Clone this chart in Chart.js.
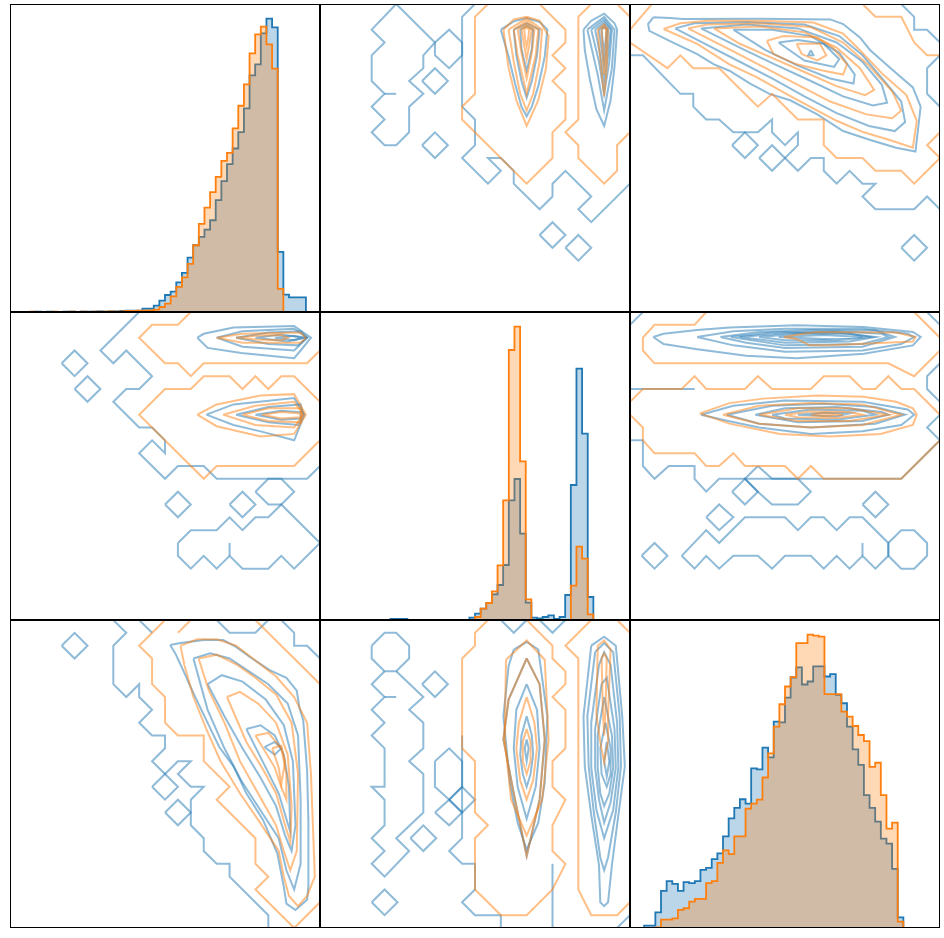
<!DOCTYPE html>
<html>
<head>
<meta charset="utf-8">
<script src="https://cdn.jsdelivr.net/npm/chart.js@4.4.1/dist/chart.umd.min.js"></script>
<style>
  html, body { margin: 0; padding: 0; background: #fff; }
  #grid { position: relative; width: 944px; height: 938px; }
  #grid canvas { position: absolute; }
</style>
</head>
<body>
<div id="grid"></div>
<script>
// ---- histograms: 50 bins each, bin edges 0..50 ----
var hist11Blue = [1,0,0,1,0,1,0,0,1,1,0,1,1,1,2,1,2,2,3,4,4,4,10,10,19,34,51,61,89,117,163,200,225,247,275,335,392,443,490,539,610,709,742,835,879,853,180,52,44,44];
var hist11Orange = [0,0,1,0,0,0,1,0,0,1,0,1,0,1,1,1,2,1,2,3,3,4,4,5,7,15,25,47,75,104,144,200,264,313,359,405,453,477,550,618,682,775,832,855,802,729,69,0,0,0];

var hist22Blue = [0,0,0,0,0,0,0,0,0,0,0,3,3,3,0,0,0,0,0,0,0,0,0,0,0,7,19,34,51,77,105,165,359,423,259,52,7,5,9,14,3,9,75,405,754,559,69,0,0,0];
var hist22Orange = [0,0,0,0,0,0,0,0,0,0,0,0,0,0,0,0,0,0,0,0,0,0,0,0,0,0,9,34,51,86,164,359,810,880,476,62,0,0,0,0,0,0,0,103,220,184,17,0,0,0];

var hist33Blue = [2,7,7,47,111,140,132,111,137,134,140,174,180,206,223,274,328,359,385,372,477,474,539,510,617,615,689,749,779,728,737,782,782,752,759,697,672,602,534,488,397,359,318,267,252,177,32,0,0,0];
var hist33Orange = [0,0,0,2,25,25,29,54,59,79,87,87,134,140,195,232,221,274,274,357,372,384,450,522,602,669,722,750,852,852,877,874,871,699,699,699,647,632,604,577,559,482,494,397,297,315,19,0,0,0];

// ---- contour lines, grid units (x 0..24 left to right, y 0..24 top to bottom) ----
var c12Blue = [
  [[5.9,0],[4,2],[5,3],[4,4],[4,6],[5,7],[4,8],[5,9],[4,10],[5,11],[5.9,11],[6.9,10],[6.9,8],[8,7],[6.9,6],[8,5],[8,4],[8.9,3],[5.9,0]],
  [[5,7],[5.9,7]],
  [[8.9,3],[10,2],[11,3],[11,4],[10,5],[8.9,4],[8.9,3]],
  [[7.9,6],[8.9,5],[9.9,6],[8.9,7],[7.9,6]],
  [[7.9,11],[8.9,10],[9.9,11],[8.9,12],[7.9,11]],
  [[17,18],[18,17],[19,18],[18,19],[17,18]],
  [[19,19],[20,18],[21,19],[20,20],[19,19]],
  [[12,0],[11,1],[11,8],[12,9],[12,11],[11,12],[13,14],[14,13],[13,12],[14,12],[15,13],[15,14],[17,16],[18,15],[18,14],[19,13],[21,15],[20,16],[21,17],[24,14]],
  [[14,2],[15,1.35],[16,1.1],[17,1.4],[17.6,2],[17.4,4.1],[16.9,6.4],[16.4,8],[16,8.75],[15.6,8],[15.1,6.2],[14.6,4.1],[14,2]],
  [[15,2],[16,1.5],[17,2],[16.8,4],[16.4,6],[16,7.3],[15.6,6],[15.2,4],[15,2]],
  [[15.5,2],[16,1.7],[16.5,2],[16.4,3.5],[16,5.2],[15.6,3.5],[15.5,2]],
  [[20.4,2],[21,1.3],[22,0.75],[22.8,1.5],[23,2],[22.8,4.9],[22.5,7.5],[22,9.5],[21.4,8.2],[20.9,5.9],[20.5,3.6],[20.4,2]],
  [[20.7,2],[22,1],[22.8,2],[22.6,5],[22,8.3],[21.5,5.5],[20.7,2]],
  [[21,2],[22,1.2],[22.6,2],[22.4,4.5],[22,7],[21.6,4.5],[21,2]],
  [[21.3,2],[22,1.4],[22.5,2],[22.3,4],[22,6],[21.7,4],[21.3,2]],
  [[21.6,2],[22,1.6],[22.3,2],[22.2,3.5],[22,4.8],[21.8,3.5],[21.6,2]],
  [[21.8,2],[22,1.8],[22.2,2],[22.1,3],[22,3.8],[21.9,3],[21.8,2]]
];
var c12Orange = [
  [[13,0],[12,1],[12,7],[11,8],[11,9],[16,14],[18,12],[18,10],[19,9],[19,7],[18,6],[19,5],[18,4],[19,3],[19,2],[17,0]],
  [[21,0],[20,1],[20,9],[19,10],[20,11],[20,12],[22,14],[23,13],[23,11],[24,10]],
  [[23,0],[24,1]],
  [[14.2,2],[15,1.2],[16,1],[17,1.3],[17.7,2.5],[17.5,5],[16.9,7.5],[16,9.5],[15.2,7.5],[14.6,5],[14.2,2]],
  [[14.6,2],[16,1.1],[17.2,2],[17,4.5],[16.5,7],[16,8.3],[15.5,7],[15,4.5],[14.6,2]],
  [[15,2],[16,1.3],[16.9,2],[16.7,4],[16,7],[15.3,4],[15,2]],
  [[15.3,2],[16,1.5],[16.6,2],[16.4,3.8],[16,5.8],[15.6,3.8],[15.3,2]],
  [[15.6,2],[16,1.7],[16.4,2],[16.2,3.2],[16,4.3],[15.8,3.2],[15.6,2]],
  [[15.8,2],[16,1.85],[16.2,2],[16.1,2.8],[16,3.3],[15.9,2.8],[15.8,2]],
  [[21.5,2],[22,1.6],[22.3,2],[22.2,4.9],[22,7.2],[21.75,4.9],[21.5,2]],
  [[21.8,2],[22,1.8],[22.15,2],[22.1,4],[22,5.5],[21.9,4],[21.8,2]]
];

var c13Blue = [
  [[0,4],[1,4],[3.9,7],[4.9,7],[4.9,8],[5.9,9],[6.9,9],[8,10],[9.9,10],[11,9],[11,10],[12,11],[13,10],[13,11],[12,12],[13,13],[14,12],[15,12],[15,13],[16,14],[17,13],[18,14],[19,14],[18,15],[19,16],[22,16],[23,15],[24,16]],
  [[21,0],[22,1],[22,2],[23,2],[24,3]],
  [[24,4],[23,5],[23,7],[24,8]],
  [[0,10],[0,14]],
  [[7.9,11],[8.9,10],[9.9,11],[8.9,12],[7.9,11]],
  [[10,12],[11,11],[12,12],[11,13],[10,12]],
  [[21,19],[22,18],[23,19],[22,20],[21,19]],
  [[1.8,1.04],[3.1,1.1],[4.1,1.17],[10,1.15],[15.5,1.2],[16.5,1.56],[17.8,2.6],[18.6,3.6],[20.4,5.2],[21.9,6.5],[22.5,8],[22.1,11.5],[20.6,11.2],[18.6,10.6],[16.5,9.9],[14.5,8.6],[12.4,7.5],[10.8,7],[9.3,6.2],[7.7,5.2],[6.5,4.7],[5.2,3.9],[3.1,2.9],[1.5,2.1],[1.4,1.56],[1.8,1.04]],
  [[3.5,1.9],[5,1.5],[9,1.4],[13.5,1.6],[16.2,2.5],[18,4],[19.6,5.9],[21,7.6],[21.3,9.2],[20.5,9.9],[18.5,9.5],[16,8.5],[13.5,7.2],[11,5.8],[8.5,4.5],[6,3.2],[3.5,1.9]],
  [[5.5,1.9],[9,1.6],[13,1.9],[16,3],[18,4.5],[19.5,6.3],[19.9,7.7],[18.8,7.9],[16.5,7.2],[14,6],[11,4.6],[8.5,3.4],[5.5,1.9]],
  [[8,2],[11,2],[14,2.5],[16.2,3.8],[17.4,5.5],[17.3,6.2],[15.5,5.8],[13,4.8],[10.5,3.6],[8,2]],
  [[11.5,3],[13,2.8],[15,3.1],[16.2,4.3],[15.8,4.9],[13.5,4.4],[11.5,3]],
  [[14,3.6],[14.2,4],[13.8,4],[14,3.6]]
];
var c13Orange = [
  [[0,2],[1.7,0]],
  [[0,3],[2.9,5],[3.9,4],[4.9,5],[6.9,5],[9.9,8],[11,7],[13,9],[15,9],[15,11],[16,12],[18,12],[19,13],[21,13],[22,14],[24,12]],
  [[18,0],[19,1],[21,1],[22,3],[23,4],[24,4]],
  [[24,10],[23,11],[24,12]],
  [[2.6,1.95],[3.9,1.5],[6,1.3],[10,1.3],[14.2,1.45],[16.5,2.3],[17.8,3.6],[19.6,5.5],[21.4,7.1],[22.2,9.1],[21.9,11.2],[20.1,10.6],[18.1,10],[16,9.1],[14.5,8.3],[12.1,7],[9.8,5.7],[7.7,4.7],[5.2,3.1],[2.6,1.95]],
  [[4.5,1.9],[6,1.6],[10,1.5],[14,1.8],[16.5,3],[18.5,4.8],[20.3,6.8],[21,8.3],[20.3,8.9],[18.3,8.6],[15.5,7.6],[13,6.3],[10.5,5],[8,3.7],[4.5,1.9]],
  [[6.5,1.9],[10,1.75],[13.5,2.2],[16,3.4],[17.8,5],[18.9,6.7],[18.2,7.1],[16,6.4],[13.5,5.3],[11,4.2],[8.5,3.1],[6.5,1.9]],
  [[10.6,2.86],[11.9,2.5],[14.5,2.6],[15.7,3.4],[16.8,4.7],[16.5,5.5],[15,5.2],[12.9,4.7],[11.1,3.9],[10.6,2.86]],
  [[12.9,3.1],[14.7,3.1],[15.2,4],[14.5,4.4],[13.3,3.9],[12.9,3.1]]
];

var c21Blue = [
  [[10,0],[7,3],[8,4],[9,3],[11,5],[10,6],[9,6],[8,7],[10,9],[11,9],[12,10],[12,11],[11,10],[10,11],[12,13],[13,12],[15,12],[16,13],[23,13],[24,12]],
  [[4,4],[5,3],[6,4],[5,5],[4,4]],
  [[5,6],[6,5],[7,6],[6,7],[5,6]],
  [[12,15],[13,14],[14,15],[13,16],[12,15]],
  [[17,15],[18,14],[19,15],[18,16],[17,15]],
  [[19,14],[20,13],[21,13],[22,14],[21,15],[20,15],[19,14]],
  [[13,18],[14,17],[16,17],[17,16],[18,17],[19,16],[20,16],[21,15],[24,18],[22,20],[21,19],[20,20],[18,20],[17,19],[16,20],[15,19],[14,20],[13,19],[13,18]],
  [[17,18],[17,19]],
  [[14.5,2],[15,1.7],[17.3,1.2],[22,1.1],[23.3,2],[22.5,3],[22,3.6],[17.9,3.2],[15.3,2.8],[14.5,2]],
  [[16,2],[18,1.5],[22,1.3],[23,2],[22,3],[18,2.7],[16,2]],
  [[17.5,2],[20,1.6],[22.5,1.5],[23,2],[22.3,2.6],[20,2.5],[17.5,2]],
  [[19,2],[21,1.75],[22.7,2],[21.5,2.3],[19,2]],
  [[20.5,2],[22,1.85],[22.8,2],[22,2.2],[20.5,2]],
  [[15.2,8],[17.3,7.2],[22,6.7],[22.8,8],[22,10],[19.4,9.3],[17.3,8.8],[15.2,8]],
  [[17.5,8],[20,7.4],[22.5,7.2],[22.7,8],[22.3,8.8],[20,8.6],[17.5,8]],
  [[19,8],[21,7.7],[22.5,7.8],[22.5,8.3],[21,8.4],[19,8]]
];
var c21Orange = [
  [[14,0],[13,1],[11,1],[10,2],[12,4],[13,4],[14,5],[15,4],[23,4],[24,3]],
  [[24,7],[22,5],[21,5],[20,6],[19,5],[18,6],[17,5],[15,5],[14,6],[12,6],[10,8],[15,13],[16,12],[22,12],[24,10]],
  [[16,2],[18,1.7],[22.5,1.6],[22.9,2],[22.5,2.4],[18,2.4],[16,2]],
  [[17.5,2],[19,1.85],[21,1.8],[21.5,2],[21,2.2],[19,2.15],[17.5,2]],
  [[14.5,8],[16,7.2],[19.4,6.5],[22,6.4],[22.9,8],[22,9.5],[19.4,9.7],[16,8.9],[14.5,8]],
  [[16.5,8],[19,7.3],[22,7],[22.7,8],[22,9],[19,8.8],[16.5,8]],
  [[18,8],[20,7.5],[22.5,7.5],[22.6,8],[22.5,8.6],[20,8.5],[18,8]],
  [[19.5,8],[21,7.8],[22.5,7.9],[22.5,8.2],[21,8.3],[19.5,8]]
];

var c23Blue = [
  [[0,1],[1,0]],
  [[23,0],[24,1]],
  [[24,4],[23,5],[23,6],[24,7]],
  [[24,8],[23,9],[24,10]],
  [[0,6],[5,6]],
  [[0,10],[1,10],[1,12],[1.9,13],[3,12],[5,12],[5,13],[5.9,14],[6.9,13],[15,13],[21,13],[24,10]],
  [[7.9,14],[8.9,13],[9.9,14],[8.9,15],[7.9,14]],
  [[9.9,12],[11,13],[13,13],[14,14],[13,15],[11,15],[9.9,14],[8.9,13],[9.9,12]],
  [[18,15],[19,14],[20,15],[19,16],[18,15]],
  [[5.9,16],[6.9,15],[8,16],[6.9,17],[5.9,16]],
  [[0.9,19],[1.9,18],[2.9,19],[1.9,20],[0.9,19]],
  [[4,19],[5.9,17],[6.9,18],[8.9,16],[12,16],[13,17],[14,16],[15,16],[16,17],[17,16],[18,16],[20,18],[20,19],[19,20],[18,19],[17,20],[16,19],[15,20],[14,19],[12,19],[11,20],[9.9,19],[8,19],[6.9,20],[5.9,19],[5,20],[4,19]],
  [[18,18],[18,19]],
  [[20,18],[21,17],[22,17],[23,18],[23,19],[22,20],[21,20],[20,19],[20,18]],
  [[1.8,1.95],[2.6,1.7],[5.2,1.4],[7.7,1.2],[12.9,1.04],[18.1,1.17],[21.9,1.56],[22.5,1.95],[21.9,2.6],[18.1,3.25],[12.9,3.6],[9,3.4],[5.2,2.9],[2.6,2.5],[1.8,1.95]],
  [[5.2,1.95],[8,1.5],[12,1.3],[18,1.3],[21.5,1.7],[22,1.95],[21,2.5],[18,3],[12,3.1],[8,2.6],[5.2,1.95]],
  [[7,1.95],[10,1.55],[14,1.4],[19,1.45],[20.5,1.95],[18,2.7],[12,2.8],[9,2.4],[7,1.95]],
  [[7.8,1.95],[11,1.6],[16,1.5],[19.5,1.7],[20,1.95],[18,2.5],[12,2.6],[7.8,1.95]],
  [[8.5,1.95],[12,1.65],[16,1.6],[19,1.95],[17,2.3],[12,2.4],[8.5,1.95]],
  [[10,1.95],[13,1.7],[17,1.7],[18.6,1.95],[16,2.2],[12,2.2],[10,1.95]],
  [[11.5,1.95],[15,1.8],[18,1.95],[15,2.1],[11.5,1.95]],
  [[5.5,8],[8,7.3],[12,6.9],[18,7],[21.5,7.6],[22,8],[21,8.8],[18,9.3],[14,9.5],[10,9],[7.6,8.5],[5.5,8]],
  [[7.5,8],[11,7.3],[15,7.15],[19,7.4],[21.3,8],[19,8.7],[14,9],[10,8.7],[7.5,8]],
  [[9.7,8],[12,7.5],[16,7.4],[19.5,7.8],[20,8],[18,8.5],[13,8.6],[9.7,8]],
  [[11,8],[14,7.6],[18,7.7],[19,8],[16,8.4],[12,8.3],[11,8]],
  [[13,8],[15,7.85],[17,7.9],[16,8.15],[13,8]]
];
var c23Orange = [
  [[5.9,0],[5,1],[1.9,1],[1,2],[1,3],[1.9,4],[20,4],[22,5],[24,3]],
  [[22,0],[24,2]],
  [[0,7],[1,6],[4,6],[5,5],[5.9,6],[8.9,6],[9.9,5],[11,6],[14,6],[15,5],[17,5],[18,6],[19,6],[20,5],[21,6],[22,6],[24,8]],
  [[0,8],[1,9],[1,10],[1.9,11],[5,11],[5.9,12],[6.9,12],[8,11],[8.9,12],[12,12],[13,13],[14,12],[15,13],[21,13],[24,10]],
  [[11.9,1.95],[13.4,1.7],[14.5,1.56],[20.6,1.6],[22.1,1.95],[21.9,2.3],[15.5,2.6],[13.9,2.6],[12.9,2.1],[11.9,1.95]],
  [[5.4,7.9],[7.7,7.1],[10.3,6.75],[14.5,6.5],[18.1,6.6],[20.6,7],[21.9,7.5],[22.2,8],[21.9,8.8],[19.4,9.5],[15.5,9.7],[11.6,9.5],[7.7,8.7],[5.4,7.9]],
  [[7.2,8],[10,7.3],[14,7.1],[18,7.2],[21,8],[18,8.8],[14,9],[10,8.7],[7.2,8]],
  [[10,8],[13,7.5],[17,7.5],[20,8],[17,8.5],[13,8.5],[10,8]],
  [[12,8],[14,7.75],[17,7.8],[18,8],[16,8.25],[13,8.2],[12,8]],
  [[14,8],[15,7.9],[16.5,8],[15,8.1],[14,8]]
];

var c31Blue = [
  [[8,0],[9,1],[8,2],[8,5],[9,6],[10,5],[10,6],[11,7],[10,8],[11,9],[12,9],[12,10],[11,11],[12,12],[13,11],[14,11],[13,12],[14,13],[15,13],[14,14],[14,16],[15,17],[15,18],[16,19],[17,19],[17,20],[20,23],[20,24]],
  [[10,0],[11,1]],
  [[16,0],[17,1],[19,1],[20,0]],
  [[21,0],[22,1],[22,2],[23,2],[24,3]],
  [[4,2],[5,1],[6,2],[5,3],[4,2]],
  [[11,13],[12,12],[13,13],[12,14],[11,13]],
  [[12,15],[13,14],[14,15],[13,16],[12,15]],
  [[12.4,1.95],[13.2,1.8],[15,1.56],[16.5,1.56],[17.5,2.1],[18.6,2.9],[20.1,3.9],[21.4,4.5],[22.2,5.5],[22.4,6.8],[22.7,7.8],[23,11.7],[23.1,15.6],[23.1,20.8],[23,21.8],[22.1,22.6],[21.4,22.1],[21.2,20.8],[20.7,18.2],[19.6,15.6],[18.3,13.5],[17.3,11.4],[16.2,9.9],[15.2,7.8],[14.2,5.7],[13.4,3.9],[12.8,2.6],[12.4,1.95]],
  [[14.2,3],[15.5,2.6],[17,3],[18.5,4],[20,5],[21.5,6.5],[22.3,9],[22.5,14],[22.5,19],[22,21],[21.4,19.5],[20.8,17],[19.5,15],[17.9,12.5],[16.6,10],[15.3,7],[14.2,3]],
  [[15.3,5],[16.4,4.3],[18,4.8],[19.8,6.2],[21.2,8.2],[21.9,11],[22.1,16],[21.8,18],[21.3,16.8],[20.6,14.5],[19.4,12.3],[18,10],[16.6,7.5],[15.3,5]],
  [[18.3,8.5],[19.4,8.2],[20.5,9],[21.2,10.5],[21.6,13],[21.7,16.5],[21.4,15.5],[20.8,13.5],[19.8,11.5],[18.3,8.5]],
  [[19.7,9.9],[20.5,9.5],[21,10],[20.5,10.5],[19.7,9.9]]
];
var c31Orange = [
  [[12,0],[10,2],[11,3],[11,5],[12,6],[12,8],[13,9],[15,9],[15,11],[17,13],[16,14],[17,15],[19,17],[19,19],[20,20],[19,21],[22,24],[24,22]],
  [[13,1],[14,0]],
  [[19,0],[21,2],[23,4],[24,5]],
  [[13.2,2],[14.5,1.5],[16,1.5],[17.5,2],[18.8,3],[20.6,4.4],[22,6],[23,8],[23.3,12],[23.6,20],[23,21.5],[22.3,22.3],[21.6,21.5],[21.2,20],[20.8,18],[19.5,16],[17.8,13.5],[16.3,11],[15.2,8.5],[14.2,6],[13.5,3.5],[13.2,2]],
  [[14.6,3],[16,2.7],[17.6,3.5],[19,4.5],[20.6,5.8],[21.8,8],[22.3,12],[22.2,18],[21.7,19.5],[21.2,18],[20.6,16],[19.2,13.5],[17.8,11],[16.6,8],[15.4,5.5],[14.6,3]],
  [[16.8,6],[17.8,5.6],[19.2,6.5],[20.6,8],[21.5,10.5],[21.8,14.5],[21.7,17.3],[21.3,16],[20.6,13.5],[19.5,11.5],[18.3,9.5],[16.8,6]],
  [[19,9],[20,8.8],[21,10],[21.4,12],[21.4,14],[21,13],[20.5,11.5],[19,9]],
  [[20.3,10],[21,9.8],[21.3,11],[21,12.8],[20.8,11.5],[20.3,10]]
];

var c32Blue = [
  [[4,2],[5,1],[5.9,1],[6.9,2],[6.9,3],[5.9,4],[5,4],[4,3],[4,2]],
  [[5.9,4],[8,6],[6.9,7],[8,8],[8,10],[6.9,11],[8,12],[8,15],[5.9,17],[6.9,18],[5,20],[4,19],[5,18],[4,17],[5,16],[5,14],[4,13],[5,13],[5,10],[4,9],[5,8],[4,7],[5,6],[4,5],[5,4]],
  [[5,6],[5.9,6]],
  [[7.9,5],[8.9,4],[9.9,5],[8.9,6],[7.9,5]],
  [[7,17],[8,16],[9,17],[8,18],[7,17]],
  [[4,22],[5,21],[6,22],[5,23],[4,22]],
  [[8.9,15],[10,14],[11,15],[10,16],[8.9,15]],
  [[10,14],[11,13],[12,14],[11,15],[10,14]],
  [[8.9,11],[10,10],[11,11],[11,13],[10,14],[8.9,13],[8.9,11]],
  [[11,9],[11,17],[10,18],[11,19],[12,19],[12,21],[11,22],[12,23],[14,23],[14,24]],
  [[14,0],[15,1],[16,0]],
  [[17,0],[18,1],[19,0]],
  [[18,19],[18,24]],
  [[24,23],[23,24]],
  [[15,2.3],[16,1.7],[16.9,2.3],[17.6,7.5],[17.4,12.7],[16.9,15.8],[16,17.9],[15.3,15.8],[14.7,12.7],[14.2,7.5],[14.6,3.6],[15,2.3]],
  [[16,3],[17,5],[17.4,9.3],[17,14],[16,18.4],[15.1,14],[14.2,9.3],[14.6,6.2],[16,3]],
  [[16,5],[16.8,7],[17,10],[16.7,13],[16,15.5],[15.3,13],[15,10],[15.2,7],[16,5]],
  [[16,7.5],[16.4,9],[16.5,10.5],[16.3,12],[16,13],[15.7,12],[15.5,10.5],[15.6,9],[16,7.5]],
  [[16,9.3],[16.15,10],[16,11],[15.85,10],[16,9.3]],
  [[21,2],[22,1.3],[22.9,2],[23.4,7.5],[23.6,11.4],[23.1,15.2],[22.6,19.1],[22.3,22],[22,22.3],[21.7,22],[21.6,19.1],[21,15.2],[20.5,11.4],[20.4,7.5],[21,2]],
  [[21.3,2.5],[22,1.8],[22.7,2.5],[23.2,7.5],[23.3,11.4],[22.9,15],[22.3,18.5],[22,19.5],[21.7,18.5],[21.2,15],[20.8,11.4],[20.7,7.5],[21.3,2.5]],
  [[21.6,3.5],[22,2.5],[22.5,3.5],[23,8],[23.1,11.5],[22.7,14.8],[22,17],[21.4,14.8],[21,11.5],[21,8],[21.6,3.5]],
  [[21.8,5],[22.2,4.5],[22.8,8.5],[22.9,11.5],[22.5,14.2],[22,15.8],[21.6,14],[21.3,11.5],[21.3,8.5],[21.8,5]],
  [[22,6],[22.6,9],[22.7,11.5],[22.4,13.5],[22,14.5],[21.7,13.5],[21.5,11.5],[21.5,9],[22,6]],
  [[22.1,8],[22.5,10],[22.5,12],[22.2,13],[21.8,12],[21.7,10],[22.1,8]],
  [[22.2,9.5],[22.4,11],[22.2,12.2],[22,11],[22.2,9.5]]
];
var c32Orange = [
  [[13,0],[12,1],[12,2],[11,3],[11,10],[12,11],[12,15],[13,16],[12,17],[12,21],[13,22],[14,23],[16,23],[18,21],[19,19],[18,18],[18,16],[19,14],[18,13],[18,11],[19,10],[19,7],[18,6],[19,5],[19,4],[18,3],[18,2],[16,0]],
  [[21,0],[19,2],[20,3],[20,21],[21,23],[23,23],[24,22]],
  [[23,0],[24,1]],
  [[14.4,3.1],[16,1.6],[17.4,3.1],[17.7,9.3],[17.2,14],[16,16.8],[14.8,14],[14.3,9.3],[14.4,3.1]],
  [[16,3],[17,5],[17.4,9.3],[17,14],[16,18.4],[15.1,14],[14.2,9.3],[14.6,6.2],[16,3]],
  [[16,6],[16.6,8],[16.8,10],[16.5,12.5],[16,14],[15.5,12.5],[15.2,10],[15.4,8],[16,6]],
  [[16,8.5],[16.3,9.5],[16.3,11],[16,12],[15.7,11],[15.7,9.5],[16,8.5]],
  [[21.5,2],[22,1.6],[22.5,2.3],[22.3,7.4],[22.3,9.5],[22,11.1],[21.7,9.5],[21.4,7.4],[21.5,2]],
  [[21.8,3],[22,2.6],[22.2,3],[22.1,7],[22,9],[21.9,7],[21.8,3]]
];

// ---- drawing ----
var BLUE = '#1f77b4', ORANGE = '#ff7f0e';
var BLUE_FILL = 'rgba(31,119,180,0.3)', ORANGE_FILL = 'rgba(255,127,14,0.3)';
var BLUE_LINE = 'rgba(31,119,180,0.5)', ORANGE_LINE = 'rgba(255,127,14,0.5)';
var panelW = 310, panelH = 308, left0 = 10, top0 = 4;

var framePlugin = {
  id: 'frame',
  afterDraw: function (chart) {
    var ctx = chart.ctx;
    ctx.save();
    ctx.strokeStyle = '#000';
    ctx.lineWidth = 1;
    ctx.strokeRect(0.5, 0.5, chart.width - 1, chart.height - 1);
    ctx.restore();
  }
};

function makeCanvas(row, col) {
  var cv = document.createElement('canvas');
  cv.width = panelW;
  cv.height = panelH;
  cv.style.left = (left0 + col * panelW) + 'px';
  cv.style.top = (top0 + row * panelH) + 'px';
  cv.style.width = panelW + 'px';
  cv.style.height = panelH + 'px';
  document.getElementById('grid').appendChild(cv);
  return cv;
}

function baseOptions(xmin, xmax, ymin, ymax, reverseY) {
  return {
    responsive: false,
    animation: false,
    devicePixelRatio: 1,
    events: [],
    layout: { padding: 0 },
    plugins: { legend: { display: false }, tooltip: { enabled: false } },
    scales: {
      x: { type: 'linear', min: xmin, max: xmax, display: false },
      y: { type: 'linear', min: ymin, max: ymax, reverse: !!reverseY, display: false }
    }
  };
}

// outline of a step histogram: up from the baseline, across each bin, back down
function stepPoints(counts) {
  var pts = [{ x: 0, y: 0 }];
  counts.forEach(function (c, i) { pts.push({ x: i, y: c }); });
  pts.push({ x: counts.length, y: counts[counts.length - 1] });
  pts.push({ x: counts.length, y: 0 });
  return pts;
}

function histDataset(counts, line, fill) {
  return {
    data: stepPoints(counts),
    showLine: true,
    stepped: 'after',
    borderColor: line,
    backgroundColor: fill,
    borderWidth: 1.8,
    pointRadius: 0,
    fill: 'origin',
    tension: 0
  };
}

function histPanel(row, col, blue, orange) {
  var ymax = Math.max(Math.max.apply(null, blue), Math.max.apply(null, orange)) * 1.05;
  new Chart(makeCanvas(row, col), {
    type: 'scatter',
    data: { datasets: [histDataset(orange, ORANGE, ORANGE_FILL), histDataset(blue, BLUE, BLUE_FILL)] },
    options: baseOptions(-2.5, 52.5, 0, ymax, false),
    plugins: [framePlugin]
  });
}

function contourDatasets(lines, color) {
  return lines.map(function (line) {
    return {
      data: line.map(function (p) { return { x: p[0], y: p[1] }; }),
      showLine: true,
      borderColor: color,
      borderWidth: 2,
      pointRadius: 0,
      fill: false,
      tension: 0
    };
  });
}

function contourPanel(row, col, blue, orange) {
  new Chart(makeCanvas(row, col), {
    type: 'scatter',
    data: { datasets: contourDatasets(orange, ORANGE_LINE).concat(contourDatasets(blue, BLUE_LINE)) },
    options: baseOptions(0, 24, 0, 24, true),
    plugins: [framePlugin]
  });
}

histPanel(0, 0, hist11Blue, hist11Orange);
contourPanel(0, 1, c12Blue, c12Orange);
contourPanel(0, 2, c13Blue, c13Orange);
contourPanel(1, 0, c21Blue, c21Orange);
histPanel(1, 1, hist22Blue, hist22Orange);
contourPanel(1, 2, c23Blue, c23Orange);
contourPanel(2, 0, c31Blue, c31Orange);
contourPanel(2, 1, c32Blue, c32Orange);
histPanel(2, 2, hist33Blue, hist33Orange);
</script>
</body>
</html>
